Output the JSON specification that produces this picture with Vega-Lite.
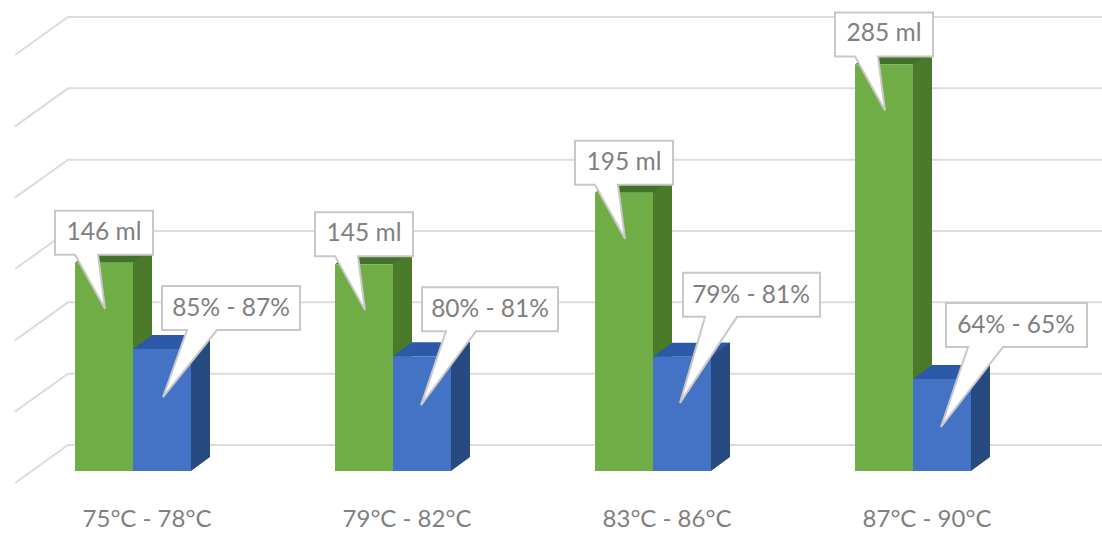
{
"$schema":"https://vega.github.io/schema/vega-lite/v6.json",
"width":1102,"height":533,"padding":0,"autosize":"none","background":"white",
"config":{"view":{"stroke":null}},
"datasets":{"bars":[
{"temp":"75°C - 78°C","series":"Volume","value":146,"label":"146 ml"},
{"temp":"79°C - 82°C","series":"Volume","value":145,"label":"145 ml"},
{"temp":"83°C - 86°C","series":"Volume","value":195,"label":"195 ml"},
{"temp":"87°C - 90°C","series":"Volume","value":285,"label":"285 ml"},
{"temp":"75°C - 78°C","series":"Share","value":85.5,"label":"85% - 87%"},
{"temp":"79°C - 82°C","series":"Share","value":80.5,"label":"80% - 81%"},
{"temp":"83°C - 86°C","series":"Share","value":80,"label":"79% - 81%"},
{"temp":"87°C - 90°C","series":"Share","value":64.5,"label":"64% - 65%"}
]},
"encoding":{
"x":{"field":"temp","type":"nominal","axis":null,"scale":{"domain":["75°C - 78°C","79°C - 82°C","83°C - 86°C","87°C - 90°C"],"range":[3,1043],"padding":0}},
"y":{"field":"value","type":"quantitative","axis":null,"scale":{"domain":[0,300],"range":[471,43],"nice":false}}
},
"layer":[
{"data":{"values":[{"grid":0},{"grid":50},{"grid":100},{"grid":150},{"grid":200},{"grid":250},{"grid":300}]},
 "mark":{"type":"point","filled":false,"stroke":"#dcdcdc","strokeWidth":2,"size":4,"opacity":1,"shape":"M-118,12 L-65,-26 L969,-26"},
 "encoding":{"x":{"datum":"75°C - 78°C"},"y":{"field":"grid","type":"quantitative"}}},
{"data":{"name":"bars"},"transform":[{"filter":"datum.series==='Volume'"}],"mark":{"type":"bar","width":19,"xOffset":9.5,"yOffset":-14,"fill":"#4b7a2b"}},
{"data":{"name":"bars"},"transform":[{"filter":"datum.series==='Share'"}],"mark":{"type":"bar","width":19,"xOffset":67.5,"yOffset":-14,"fill":"#264a80"}},
{"data":{"name":"bars"},"transform":[{"filter":"datum.series==='Share'"}],
 "mark":{"type":"point","filled":true,"size":4,"opacity":1,"fill":"#264a80","shape":"M58,0 L77,-14 L58,-14 Z"},
 "encoding":{"y":{"datum":0}}},
{"data":{"name":"bars"},"transform":[{"filter":"datum.series==='Volume'"}],
 "mark":{"type":"point","filled":true,"size":4,"opacity":1,"fill":"#43702a","shape":"M-58,0 L-39,-14 L19,-14 L0,0 Z"}},
{"data":{"name":"bars"},"transform":[{"filter":"datum.series==='Share'"}],
 "mark":{"type":"point","filled":true,"size":4,"opacity":1,"fill":"#2d5aa8","shape":"M0,0 L19,-14 L77,-14 L58,0 Z"}},
{"data":{"name":"bars"},"transform":[{"filter":"datum.series==='Volume'"}],"mark":{"type":"bar","width":58,"xOffset":-29,"fill":"#70ad47"}},
{"data":{"name":"bars"},"transform":[{"filter":"datum.series==='Share'"}],"mark":{"type":"bar","width":58,"xOffset":29,"fill":"#4472c4"}},
{"data":{"name":"bars"},
 "mark":{"type":"point","filled":true,"size":4,"opacity":1,"fill":"white","stroke":"#c8c8c8","strokeWidth":2},
 "encoding":{
  "shape":{"field":"label","type":"nominal","legend":null,"scale":{"domain":["146 ml","145 ml","195 ml","285 ml","85% - 87%","80% - 81%","79% - 81%","64% - 65%"],"range":[
   "M-78,-52 L20,-52 L20,-8 L-35,-8 L-28,46 L-58,-8 L-78,-8 Z",
   "M-78,-52 L20,-52 L20,-8 L-35,-8 L-28,46 L-58,-8 L-78,-8 Z",
   "M-78,-52 L20,-52 L20,-8 L-35,-8 L-28,46 L-58,-8 L-78,-8 Z",
   "M-78,-52 L20,-52 L20,-8 L-35,-8 L-28,46 L-58,-8 L-78,-8 Z",
   "M29,-63 L167,-63 L167,-19 L84,-19 L30,48 L54,-19 L29,-19 Z",
   "M29,-69 L165,-69 L165,-25 L83,-25 L28,49 L53,-25 L29,-25 Z",
   "M30,-84 L167,-84 L167,-40 L84,-40 L27,46 L52,-40 L30,-40 Z",
   "M33,-76 L174,-76 L174,-32 L90,-32 L28,48 L55,-32 L33,-32 Z"]}}
 }},
{"data":{"name":"bars"},"transform":[{"filter":"datum.series==='Volume'"}],
 "mark":{"type":"text","font":"Lato","fontSize":24.5,"fill":"#808080","baseline":"middle","align":"center","dx":-29,"dy":-30},
 "encoding":{"text":{"field":"label"}}},
{"data":{"name":"bars"},"transform":[{"filter":"datum.label==='85% - 87%'"}],
 "mark":{"type":"text","font":"Lato","fontSize":24.5,"fill":"#808080","baseline":"middle","align":"center","dx":98,"dy":-40},
 "encoding":{"text":{"field":"label"}}},
{"data":{"name":"bars"},"transform":[{"filter":"datum.label==='80% - 81%'"}],
 "mark":{"type":"text","font":"Lato","fontSize":24.5,"fill":"#808080","baseline":"middle","align":"center","dx":97,"dy":-46},
 "encoding":{"text":{"field":"label"}}},
{"data":{"name":"bars"},"transform":[{"filter":"datum.label==='79% - 81%'"}],
 "mark":{"type":"text","font":"Lato","fontSize":24.5,"fill":"#808080","baseline":"middle","align":"center","dx":98,"dy":-61},
 "encoding":{"text":{"field":"label"}}},
{"data":{"name":"bars"},"transform":[{"filter":"datum.label==='64% - 65%'"}],
 "mark":{"type":"text","font":"Lato","fontSize":24.5,"fill":"#808080","baseline":"middle","align":"center","dx":103,"dy":-53},
 "encoding":{"text":{"field":"label"}}},
{"data":{"name":"bars"},"transform":[{"filter":"datum.series==='Volume'"}],
 "mark":{"type":"text","font":"Lato","fontSize":24,"fill":"#808080","baseline":"middle","align":"center","dx":14,"dy":49},
 "encoding":{"text":{"field":"temp"},"y":{"datum":0}}}
]
}
